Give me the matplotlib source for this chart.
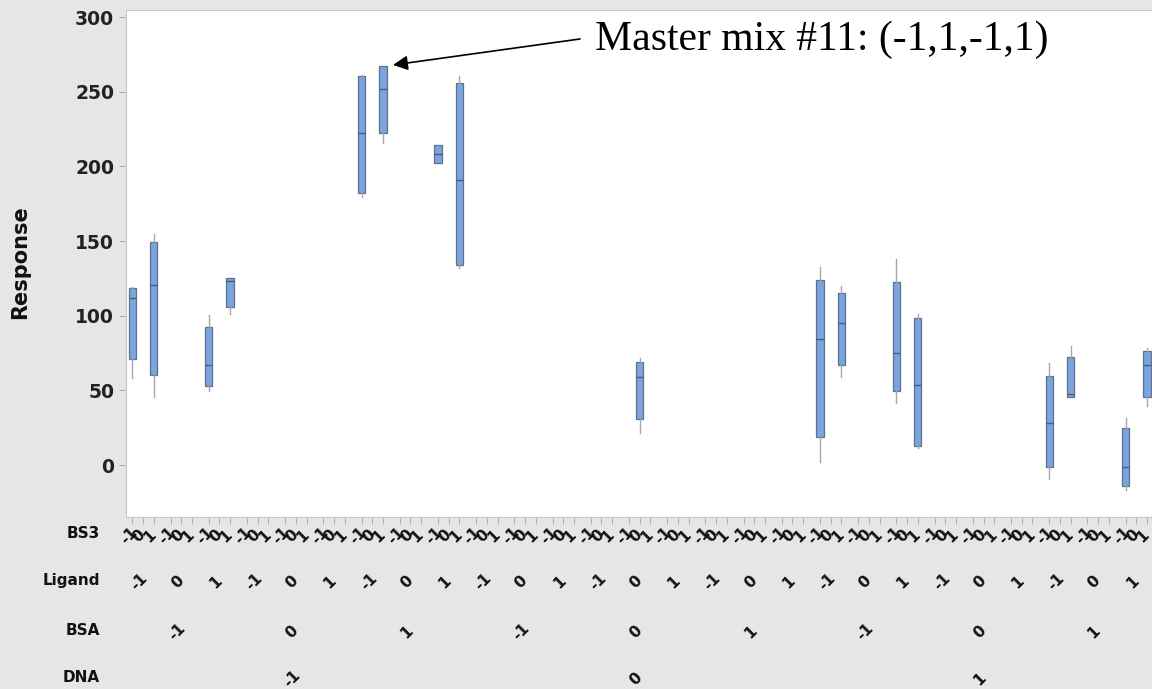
import matplotlib.pyplot as plt
from matplotlib import transforms

# factor levels of the 17 runs (16 corners + centre point)
dna = [-1, -1, -1, -1, -1, -1, -1, -1, 0, 1, 1, 1, 1, 1, 1, 1, 1]
bsa = [-1, -1, -1, -1, 1, 1, 1, 1, 0, -1, -1, -1, -1, 1, 1, 1, 1]
ligand = [-1, -1, 1, 1, -1, -1, 1, 1, 0, -1, -1, 1, 1, -1, -1, 1, 1]
bs3 = [-1, 1, -1, 1, -1, 1, -1, 1, 0, -1, 1, -1, 1, -1, 1, -1, 1]

# box statistics
whislo = [58, 45.7, 49.8, 101.1, 179.7, 215.8, 202, 131.7, 21.4, 2.2, 59.1, 41.3, 11.4, -9.6, 45.7, -16.7, 39.5]
q1 = [71, 60.3, 53.1, 105.6, 182.4, 222.1, 202, 133.9, 30.8, 19, 67, 49.8, 12.7, -1.5, 45.7, -14.1, 45.3]
med = [112, 120.5, 67, 123.4, 222.1, 251.6, 208, 190.9, 59, 84.2, 94.9, 75.2, 53.6, 27.9, 47.5, -1.1, 67]
q3 = [118.5, 149.6, 92.6, 125, 260.5, 267.2, 214.3, 256, 69, 123.9, 115, 122.8, 98.2, 59.6, 72.5, 24.5, 76.5]
whishi = [119, 154.7, 100.4, 125, 261, 267.2, 214.3, 260.5, 72, 132.8, 119.9, 137.7, 101.1, 68.1, 79.7, 31.2, 78.1]

levels = [-1, 0, 1]
step = 0.28  # spacing of BS3 levels inside one group


def xpos(d, b, l, s):
    g = 9 * levels.index(d) + 3 * levels.index(b) + levels.index(l)
    return g + step * s


fig = plt.figure(figsize=(11.52, 6.89), dpi=100, facecolor='#e6e6e6')
ax = fig.add_axes([126 / 1152, 172 / 689, 1 - 126 / 1152, 507 / 689])
ax.set_facecolor('white')

stats = []
for i in range(len(med)):
    stats.append(dict(whislo=whislo[i], q1=q1[i], med=med[i], q3=q3[i], whishi=whishi[i]))
pos = [xpos(dna[i], bsa[i], ligand[i], bs3[i]) for i in range(len(med))]

ax.bxp(stats, positions=pos, widths=0.19, showfliers=False, showcaps=False,
       patch_artist=True, manage_ticks=False,
       boxprops=dict(facecolor='#7ba5de', edgecolor='#5f7088', linewidth=0.9),
       medianprops=dict(color='#4d5d74', linewidth=1.0),
       whiskerprops=dict(color='#a8a8a8', linewidth=1.0))

ax.set_xlim(-0.445, 26.41)
ax.set_ylim(-34.8, 304.7)
ax.set_yticks([0, 50, 100, 150, 200, 250, 300])
for sp in ax.spines.values():
    sp.set_color('#c8c8c8')
ax.tick_params(axis='y', colors='#b0b0b0', length=5, labelcolor='#222222', labelsize=13.5)
for t in ax.get_yticklabels():
    t.set_fontweight('bold')

# one tick per BS3 level in every group
ticks = [g + step * s for g in range(27) for s in levels]
ax.set_xticks(ticks)
ax.set_xticklabels([])
ax.tick_params(axis='x', colors='#b0b0b0', length=5)

trans = transforms.blended_transform_factory(ax.transData, fig.transFigure)
lab = dict(rotation=45, rotation_mode='anchor', ha='center', va='center',
           fontsize=11, fontweight='bold', color='#111111', transform=trans, clip_on=False)
dx = -0.1  # labels sit a little left of their tick
for g in range(27):
    for s in levels:
        ax.text(g + step * s + dx, 0.222, str(s), **lab)
    ax.text(g + dx, 0.155, str(levels[g % 3]), **lab)
for g in range(9):
    ax.text(3 * g + 1 + dx, 0.083, str(levels[g % 3]), **lab)
for g in range(3):
    ax.text(9 * g + 4 + dx, 0.015, str(levels[g]), **lab)

rows = [('BS3', 0.225), ('Ligand', 0.157), ('BSA', 0.085), ('DNA', 0.017)]
for name, y in rows:
    fig.text(0.087, y, name, ha='right', va='center', fontsize=11,
             fontweight='bold', color='#111111')

fig.text(0.0175, 0.62, 'Response', rotation=90, ha='center', va='center',
         fontsize=15, fontweight='bold', color='#111111')

ax.annotate('', xy=(6.545, 267.9), xytext=(11.44, 285.3),
            arrowprops=dict(arrowstyle='-|>', color='black', lw=1.2,
                            mutation_scale=22, shrinkA=0, shrinkB=0))
ax.text(11.83, 284.6, 'Master mix #11: (-1,1,-1,1)', fontsize=30,
        family='Liberation Serif', va='center', ha='left')

fig.savefig('out.png', dpi=100, facecolor=fig.get_facecolor())
